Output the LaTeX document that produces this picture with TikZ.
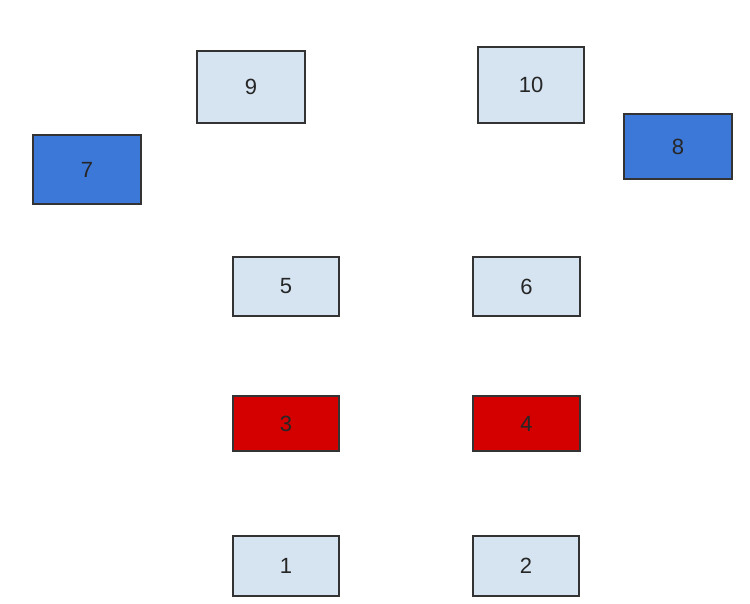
\documentclass[tikz,border=0pt]{standalone}
\usepackage{fontspec}
\setmainfont{Liberation Sans}
\usepackage{xcolor}
\usepackage{tikz}
\definecolor{cellblue}{HTML}{D6E4F2}
\definecolor{deepblue}{HTML}{3C78D8}
\definecolor{alarmred}{HTML}{D40000}
\definecolor{edgegray}{HTML}{333333}

\begin{document}
\begin{tikzpicture}[x=1pt, y=-1pt, every node/.style={font=\fontsize{22}{26}\selectfont, text=black!85},
  cell/.style={draw=edgegray, line width=1.3pt, fill=cellblue, minimum width=106pt, minimum height=59pt, inner sep=0pt, outer sep=0pt},
  bluecell/.style={cell, fill=deepblue, minimum width=108pt},
  redcell/.style={cell, fill=alarmred, minimum height=55pt}]
\useasboundingbox (0,0) rectangle (750,603);
\node[cell, minimum width=108pt, minimum height=72pt] (n9) at (251,87) {9};
\node[cell, minimum height=76pt] (n10) at (531,85) {10};
\node[bluecell, minimum height=69pt] (n7) at (87,169.5) {7};
\node[bluecell, minimum height=65pt] (n8) at (678,146.5) {8};
\node[cell] (n5) at (286,286.5) {5};
\node[cell, minimum width=107pt] (n6) at (526.5,286.5) {6};
\node[redcell] (n3) at (286,423.5) {3};
\node[redcell, minimum width=107pt] (n4) at (526.5,423.5) {4};
\node[cell, minimum height=60pt] (n1) at (286,566) {1};
\node[cell, minimum height=60pt] (n2) at (526,566) {2};
\end{tikzpicture}
\end{document}
